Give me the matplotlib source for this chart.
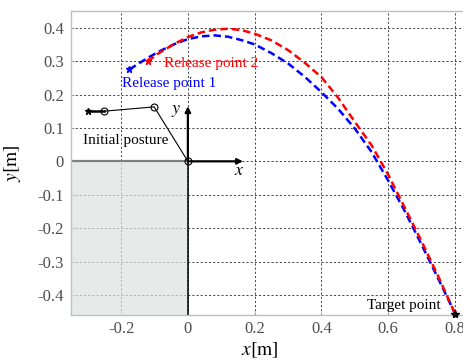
import numpy as np
import matplotlib
matplotlib.use('Agg')
import matplotlib.pyplot as plt

plt.rcParams['font.family'] = ['Liberation Serif', 'DejaVu Serif']
plt.rcParams['mathtext.fontset'] = 'stix'
plt.rcParams['axes.unicode_minus'] = False

# trajectory from release point 1 (blue)
traj1_x = [-0.175, -0.15, -0.12, -0.08, -0.04, 0.0, 0.04, 0.08, 0.12, 0.16, 0.2, 0.25,
           0.3, 0.35, 0.4, 0.45, 0.5, 0.55, 0.6, 0.65, 0.7, 0.75, 0.8]
traj1_y = [0.275, 0.291, 0.31, 0.332, 0.351, 0.366, 0.374, 0.377, 0.373, 0.363, 0.35, 0.324,
           0.293, 0.253, 0.207, 0.157, 0.098, 0.028, -0.058, -0.15, -0.25, -0.352, -0.456]

# trajectory from release point 2 (red)
traj2_x = [-0.12, -0.09, -0.06, -0.03, 0.0, 0.04, 0.08, 0.12, 0.16, 0.2, 0.25,
           0.3, 0.35, 0.4, 0.45, 0.5, 0.55, 0.6, 0.65, 0.7, 0.75, 0.8]
traj2_y = [0.299, 0.322, 0.34, 0.357, 0.372, 0.386, 0.394, 0.397, 0.393, 0.382, 0.362,
           0.333, 0.295, 0.252, 0.19, 0.118, 0.048, -0.04, -0.14, -0.24, -0.345, -0.456]

# initial posture of the arm (joint positions)
arm_x = [-0.3, -0.252, -0.101, 0.0]
arm_y = [0.15, 0.15, 0.163, 0.0]

target_point = (0.8, -0.456)
frame_len = 0.165

x_ticks = [-0.2, 0, 0.2, 0.4, 0.6, 0.8]
x_tick_labels = ['-0.2', '0', '0.2', '0.4', '0.6', '0.8']
y_ticks = [-0.4, -0.3, -0.2, -0.1, 0, 0.1, 0.2, 0.3, 0.4]
y_tick_labels = ['-0.4', '-0.3', '-0.2', '-0.1', '0', '0.1', '0.2', '0.3', '0.4']

xlim = (-0.35, 0.85)
ylim = (-0.46, 0.45)

fig = plt.figure(figsize=(4.63, 3.63), dpi=100)
# axes runs past the right edge of the figure (cropped like the original)
ax = fig.add_axes([71 / 463, 48 / 363, 400.75 / 463, 304 / 363])
ax.set_xlim(*xlim)
ax.set_ylim(*ylim)

# grid below everything
ax.set_axisbelow(True)
ax.grid(True, color='0.15', linestyle=(0, (2.5, 2.5)), linewidth=0.6)

# shaded region (body / table)
ax.fill_between([xlim[0], 0], ylim[0], 0, color=(0.875, 0.885, 0.88), alpha=0.7, linewidth=0, zorder=1.5)
ax.plot([xlim[0], 0], [0, 0], color='0.5', linewidth=1.6, zorder=2)
ax.plot([0, 0], [ylim[0], 0], color='k', linewidth=1.1, zorder=2)

# coordinate frame
ax.annotate('', xy=(frame_len, 0), xytext=(0, 0),
            arrowprops=dict(arrowstyle='-|>', color='k', lw=1.6, mutation_scale=8, shrinkA=0, shrinkB=0), zorder=3)
ax.annotate('', xy=(0, frame_len), xytext=(0, 0),
            arrowprops=dict(arrowstyle='-|>', color='k', lw=1.6, mutation_scale=8, shrinkA=0, shrinkB=0), zorder=3)
ax.text(-0.034, 0.153, '$y$', fontsize=13, ha='center', va='center')
ax.text(0.155, -0.027, '$x$', fontsize=13, ha='center', va='center')

# arm in initial posture
ax.plot(arm_x[:2], arm_y[:2], color='k', linewidth=1.8, zorder=4)
ax.plot(arm_x[1:], arm_y[1:], color='k', linewidth=0.8, zorder=4)
ax.plot(arm_x[0], arm_y[0], marker='*', color='k', markersize=5, zorder=5)
ax.plot(arm_x[1:], arm_y[1:], linestyle='none', marker='o', markersize=5,
        markerfacecolor='none', markeredgecolor='k', markeredgewidth=0.8, zorder=5)
ax.text(-0.315, 0.062, 'Initial posture', fontsize=11, ha='left', va='center')

# throwing trajectories
ax.plot(traj1_x, traj1_y, color='b', linewidth=1.8, linestyle=(0, (3, 1.6)), zorder=6)
ax.plot(traj2_x, traj2_y, color='r', linewidth=1.8, linestyle=(0, (3, 1.6)), zorder=6)
ax.plot(traj1_x[0], traj1_y[0], marker='*', color='b', markersize=5, zorder=7)
ax.plot(traj2_x[0], traj2_y[0], marker='*', color='r', markersize=5, zorder=7)
ax.plot(*target_point, marker='*', color='k', markersize=6, zorder=7, clip_on=False)

ax.text(-0.198, 0.232, 'Release point 1', fontsize=11, color='b', ha='left', va='center')
ax.text(-0.072, 0.294, 'Release point 2', fontsize=11, color='r', ha='left', va='center')
ax.text(0.537, -0.431, 'Target point', fontsize=11, color='k', ha='left', va='center')

# ticks and labels
ax.set_xticks(x_ticks)
ax.set_xticklabels(x_tick_labels)
ax.set_yticks(y_ticks)
ax.set_yticklabels(y_tick_labels)
ax.tick_params(direction='in', length=2.5, color='0.6', labelcolor='0.3', labelsize=12)
ax.tick_params(axis='x', pad=4)
ax.tick_params(axis='y', pad=5)
for side in ['left', 'bottom', 'top', 'right']:
    ax.spines[side].set_color('0.75')
    ax.spines[side].set_linewidth(1.0)

ax.set_xlabel('$x[\\mathrm{m}]$', fontsize=14)
ax.set_ylabel('$y[\\mathrm{m}]$', fontsize=14)
ax.xaxis.set_label_coords(0.47, -0.085)
ax.yaxis.set_label_coords(-0.12, 0.5)

plt.savefig('out.png', dpi=100)
